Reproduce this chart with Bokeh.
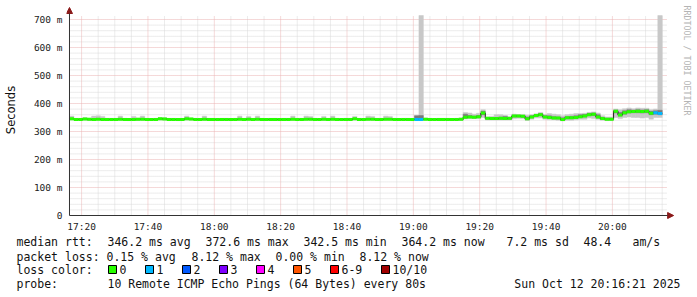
import re
import numpy as np
from bokeh.plotting import figure
from bokeh.models import Range1d, FixedTicker, Arrow, NormalHead, Label
from bokeh.layouts import column
from bokeh.embed import file_html
from bokeh.resources import INLINE
from bokeh.core.properties import value

# ---------------- data ----------------
START_MIN = 16 + 21 / 60      # 17:16:21, minutes after 17:00
STEP_MIN = 80 / 60            # one step = 80 s
SPAN_MIN = 180.0              # 3 hours shown
Y_MAX = 714.3                 # upper limit of the graph (ms)

x_ticks = [20, 40, 60, 80, 100, 120, 140, 160, 180]
x_tick_labels = ["17:20", "17:40", "18:00", "18:20", "18:40", "19:00", "19:20", "19:40", "20:00"]
x_minor = [25, 30, 35, 45, 50, 55, 65, 70, 75, 85, 90, 95, 105, 110, 115, 125, 130, 135,
           145, 150, 155, 165, 170, 175, 185, 190, 195]
y_ticks = [0, 100, 200, 300, 400, 500, 600, 700]
y_tick_labels = ["0", "100 m", "200 m", "300 m", "400 m", "500 m", "600 m", "700 m"]
y_minor = [20, 40, 60, 80, 120, 140, 160, 180, 220, 240, 260, 280, 320, 340, 360, 380,
           420, 440, 460, 480, 520, 540, 560, 580, 620, 640, 660, 680]

# median rtt per 80 s step (ms)
median = [
    345.1, 343.2, 342.9, 345.0, 343.4, 343.1, 344.0, 343.3, 342.8, 343.0,
    343.2, 344.1, 343.0, 342.7, 343.1, 343.4, 344.2, 343.0, 342.9, 343.1,
    345.2, 344.9, 343.3, 343.0, 342.8, 343.2, 345.1, 344.3, 343.1, 342.9,
    344.0, 343.2, 343.0, 342.8, 343.1, 343.3, 342.9, 343.0, 344.1, 343.2,
    344.0, 343.1, 344.2, 343.0, 342.9, 343.1, 343.2, 342.8, 343.0, 343.1,
    344.1, 343.2, 343.0, 344.0, 344.2, 343.1, 342.9, 344.0, 343.2, 344.1,
    343.0, 342.9, 343.1, 343.2, 345.2, 343.1, 342.9, 344.0, 344.2, 343.0,
    343.1, 344.1, 344.0, 343.2, 342.9, 343.0, 343.1, 342.8, 343.2, 343.0,
    344.0, 343.1, 342.9, 343.0, 343.2, 343.1, 342.9, 343.0,
    343.4, 351.2, 352.0, 351.1, 352.3, 366.0, 347.1, 346.2, 346.0, 347.2,
    346.1, 347.0, 355.1, 355.2, 354.3, 345.1, 352.2, 357.1, 360.2, 352.0,
    350.1, 348.2, 348.0, 342.5, 349.1, 349.2, 350.0, 353.1, 355.2, 360.1,
    361.2, 352.1, 346.0, 344.1, 344.2, 372.6, 359.1, 367.2, 370.1, 371.2,
    372.0, 371.1, 372.2, 365.1, 367.0, 364.2,
]

# lost pings (of 10) per step
loss = [
    0, 0, 0, 0, 0, 0, 0, 0, 0, 0, 0, 0, 0, 0, 0, 0, 0, 0, 0, 0,
    0, 0, 0, 0, 0, 0, 0, 0, 0, 0, 0, 0, 0, 0, 0, 0, 0, 0, 0, 0,
    0, 0, 0, 0, 0, 0, 0, 0, 0, 0, 0, 0, 0, 0, 0, 0, 0, 0, 0, 0,
    0, 0, 0, 0, 0, 0, 0, 0, 0, 0, 0, 0, 0, 0, 0, 0, 0, 0, 1, 1,
    0, 0, 0, 0, 0, 0, 0, 0, 0, 0, 0, 0, 0, 0, 0, 0, 0, 0, 0, 0,
    0, 0, 0, 0, 0, 0, 0, 0, 0, 0, 0, 0, 0, 0, 0, 0, 0, 0, 0, 0,
    0, 0, 0, 0, 0, 0, 0, 0, 0, 0, 0, 0, 1, 1,
]

# smoke: fastest / slowest ping and inner spread (ms)
ping_min = [
    341, 340, 340, 341, 340, 340, 341, 340, 340, 340,
    340, 341, 340, 339, 340, 340, 341, 340, 340, 340,
    341, 341, 340, 340, 339, 340, 341, 341, 340, 340,
    341, 340, 340, 339, 340, 340, 340, 340, 341, 340,
    341, 340, 341, 340, 340, 340, 340, 339, 340, 340,
    341, 340, 340, 341, 341, 340, 340, 341, 340, 341,
    340, 340, 340, 340, 341, 340, 340, 341, 341, 340,
    340, 341, 341, 340, 340, 340, 340, 339, 340, 340,
    341, 340, 340, 340, 340, 340, 340, 340,
    340, 345, 346, 346, 346, 350, 341, 341, 341, 341,
    341, 341, 346, 347, 346, 340, 344, 348, 348, 344,
    342, 342, 340, 338, 340, 340, 342, 344, 344, 348,
    346, 344, 340, 339, 339, 350, 346, 350, 352, 350,
    350, 348, 350, 344, 350, 350,
]
inner_lo = [
    343, 341, 341, 343, 341, 341, 342, 341, 341, 341,
    341, 342, 341, 341, 341, 341, 342, 341, 341, 341,
    343, 343, 341, 341, 341, 341, 343, 342, 341, 341,
    342, 341, 341, 341, 341, 341, 341, 341, 342, 341,
    342, 341, 342, 341, 341, 341, 341, 341, 341, 341,
    342, 341, 341, 342, 342, 341, 341, 342, 341, 342,
    341, 341, 341, 341, 343, 341, 341, 342, 342, 341,
    341, 342, 342, 341, 341, 341, 341, 341, 341, 341,
    342, 341, 341, 341, 341, 341, 341, 341,
    342, 348, 349, 348, 349, 360, 344, 343, 343, 344,
    343, 344, 352, 352, 351, 342, 349, 354, 357, 349,
    347, 345, 345, 340, 346, 346, 347, 350, 352, 357,
    357, 348, 343, 342, 342, 366, 355, 362, 366, 367,
    367, 366, 367, 360, 362, 360,
]
inner_hi = [
    347, 345, 345, 347, 345, 345, 346, 345, 345, 345,
    345, 346, 345, 345, 345, 345, 346, 345, 345, 345,
    347, 347, 345, 345, 345, 345, 347, 346, 345, 345,
    346, 345, 345, 345, 345, 345, 345, 345, 346, 345,
    346, 345, 346, 345, 345, 345, 345, 345, 345, 345,
    346, 345, 345, 346, 346, 345, 345, 346, 345, 346,
    345, 345, 345, 345, 347, 345, 345, 346, 346, 345,
    345, 346, 346, 345, 345, 345, 345, 345, 356, 357,
    346, 345, 345, 345, 345, 345, 345, 345,
    345, 362, 357, 355, 357, 372, 350, 349, 350, 351,
    354, 349, 358, 358, 357, 352, 356, 360, 364, 356,
    356, 353, 352, 349, 353, 354, 356, 360, 361, 365,
    366, 360, 350, 347, 347, 376, 368, 374, 378, 376,
    378, 377, 378, 372, 374, 376,
]
ping_max = [
    355, 347, 347, 349, 347, 355, 356, 354, 347, 347,
    347, 355, 347, 346, 354, 347, 355, 347, 346, 347,
    349, 349, 347, 347, 346, 347, 355, 348, 347, 346,
    355, 347, 347, 346, 347, 347, 346, 347, 355, 347,
    354, 347, 355, 347, 346, 347, 347, 346, 347, 347,
    355, 347, 347, 355, 354, 347, 346, 354, 347, 355,
    347, 346, 347, 347, 354, 347, 346, 355, 354, 347,
    347, 355, 354, 347, 346, 347, 347, 346, 358, 760,
    348, 347, 346, 347, 347, 347, 346, 347,
    348, 368, 366, 362, 365, 378, 352, 354, 360, 360,
    357, 352, 362, 360, 361, 358, 360, 363, 368, 361,
    364, 362, 360, 356, 360, 362, 364, 364, 365, 368,
    370, 366, 356, 352, 352, 380, 378, 381, 384, 381,
    384, 383, 383, 378, 380, 760,
]

loss_labels = ["0", "1", "2", "3", "4", "5", "6-9", "10/10"]
loss_colors = ["#26ff00", "#00b8ff", "#0059ff", "#7e00ff", "#ff00ff", "#ff5500", "#ff0000", "#a10000"]

stat_rtt = "median rtt:  346.2 ms avg  372.6 ms max  342.5 ms min  364.2 ms now   7.2 ms sd  48.4   am/s"
stat_loss = "packet loss: 0.15 % avg  8.12 % max  0.00 % min  8.12 % now"
loss_title = "loss color:"
probe_text = "probe:       10 Remote ICMP Echo Pings (64 Bytes) every 80s"
date_text = "Sun Oct 12 20:16:21 2025"
watermark = "RRDTOOL / TOBI OETIKER"

# ---------------- derived ----------------
n = len(median)
t0 = START_MIN + np.arange(n) * STEP_MIN
t1 = t0 + STEP_MIN
med = np.array(median, dtype=float)


def loss_class(k):
    if k <= 5:
        return k
    if k < 10:
        return 6
    return 7


band_colors = [loss_colors[loss_class(k)] for k in loss]

X_END = START_MIN + SPAN_MIN
PX_PER_MIN = 600 / SPAN_MIN
PX_PER_MS = 200 / Y_MAX

MONO = "DejaVu Sans Mono"
GRID_MINOR = "#d8d8d8"
GRID_MAJOR = "#ebb3b3"
AXIS_COL = "#333333"
ARROW_COL = "#8b1a1a"

# canvas layout of the graph part (pixels)
W, H_TOP = 697, 234
FRAME_L, FRAME_B = 63, 219          # frame covers x 63..697, y 0..219
AXIS_X_PX, AXIS_Y_PX = 66, 215      # where the value axis / time axis lines sit

x_lo = START_MIN - (AXIS_X_PX - FRAME_L) / PX_PER_MIN
x_hi = x_lo + (W - FRAME_L) / PX_PER_MIN
y_lo = -(FRAME_B - AXIS_Y_PX) / PX_PER_MS
y_hi = y_lo + FRAME_B / PX_PER_MS

# ---------------- main graph ----------------
p = figure(width=W, height=H_TOP,
           x_range=Range1d(x_lo, x_hi), y_range=Range1d(y_lo, y_hi),
           output_backend="svg", toolbar_location=None,
           min_border_left=FRAME_L, min_border_right=0, min_border_top=0,
           min_border_bottom=H_TOP - FRAME_B)
p.frame_align = False
p.outline_line_color = None
p.xgrid.visible = False
p.ygrid.visible = False
p.background_fill_color = "white"
p.border_fill_color = "white"

# grid
p.segment(x0=x_minor, y0=0, x1=x_minor, y1=Y_MAX, line_color=GRID_MINOR, line_width=1, line_dash="1 1")
p.segment(x0=START_MIN, y0=y_minor, x1=X_END, y1=y_minor, line_color=GRID_MINOR, line_width=1, line_dash="1 1")
p.segment(x0=x_ticks, y0=0, x1=x_ticks, y1=Y_MAX, line_color=GRID_MAJOR, line_width=1, line_dash="1 1")
p.segment(x0=START_MIN, y0=y_ticks[1:], x1=X_END, y1=y_ticks[1:], line_color=GRID_MAJOR, line_width=1, line_dash="1 1")

# smoke (anything above the graph's upper limit is cut at the limit)
p.quad(left=t0, right=t1, bottom=ping_min, top=np.minimum(ping_max, Y_MAX),
       fill_color="#c8c8c8", line_color="#c8c8c8", line_width=0.5)
p.quad(left=t0, right=t1, bottom=inner_lo, top=np.minimum(inner_hi, Y_MAX),
       fill_color="#7a7a7a", line_color="#7a7a7a", line_width=0.5)

# median step line (thin, dark) and loss coloured band
step_x = np.column_stack([t0, t1]).ravel()
step_y = np.repeat(med, 2)
p.line(step_x, step_y, line_color="#202020", line_width=1)
p.segment(x0=t0, y0=med, x1=t1, y1=med, line_color=band_colors, line_width=3, line_cap="butt")

# axes: Bokeh axes at the frame edges give the tick labels, lines drawn as arrows
p.xaxis.ticker = FixedTicker(ticks=x_ticks)
p.xaxis.major_label_overrides = dict(zip(x_ticks, x_tick_labels))
p.yaxis.ticker = FixedTicker(ticks=y_ticks)
p.yaxis.major_label_overrides = dict(zip(y_ticks, y_tick_labels))
for ax in (p.xaxis, p.yaxis):
    ax.axis_line_color = None
    ax.major_tick_in = 0
    ax.major_tick_out = 0
    ax.minor_tick_in = 0
    ax.minor_tick_out = 0
    ax.major_label_text_font = MONO
    ax.major_label_text_font_size = "9.5px"
    ax.major_label_text_color = "#222222"
p.xaxis.major_label_standoff = 1
p.yaxis.major_label_standoff = 4
p.yaxis.axis_label = "Seconds"
p.yaxis.axis_label_text_font = "DejaVu Sans"
p.yaxis.axis_label_text_font_size = "11.5px"
p.yaxis.axis_label_text_font_style = "normal"
p.yaxis.axis_label_text_color = "#111111"
p.yaxis.axis_label_standoff = 13

# axis lines with arrow heads
p.add_layout(Arrow(end=NormalHead(size=6, fill_color=ARROW_COL, line_color=ARROW_COL),
                   x_start=START_MIN, y_start=0, x_end=X_END + 7 / PX_PER_MIN, y_end=0,
                   line_color=AXIS_COL, line_width=1))
p.add_layout(Arrow(end=NormalHead(size=6, fill_color=ARROW_COL, line_color=ARROW_COL),
                   x_start=START_MIN, y_start=0, x_end=START_MIN, y_end=Y_MAX + 8 / PX_PER_MS,
                   line_color=AXIS_COL, line_width=1))

# watermark on the right, reading downwards
p.add_layout(Label(x=X_END + 20 / PX_PER_MIN, y=Y_MAX + 10 / PX_PER_MS, text=watermark,
                   angle=-np.pi / 2, text_align="left", text_baseline="middle",
                   text_font=MONO, text_font_size="8.3px", text_color="#b4b4b4"))

# ---------------- legend / stats ----------------
H_BOT = 297 - H_TOP
q = figure(width=W, height=H_BOT, x_range=Range1d(0, W), y_range=Range1d(H_BOT, 0),
           output_backend="svg", toolbar_location=None,
           x_axis_location=None, y_axis_location=None,
           min_border_left=0, min_border_right=0, min_border_top=0, min_border_bottom=0)
q.frame_align = False
q.xgrid.visible = False
q.ygrid.visible = False
q.outline_line_color = None
q.background_fill_color = "white"
q.border_fill_color = "white"

TXT = dict(text_font=value(MONO), text_font_size="11.5px", text_color="#111111",
           text_baseline="middle", text_align="left")
ROW_Y = [241 - H_TOP, 256 - H_TOP, 269 - H_TOP, 283.5 - H_TOP]
LEFT = 16
CHAR_W = 7.0


def tokens(line):
    """split a fixed-width line into (column, text) pieces"""
    return [(m.start(), m.group(0)) for m in re.finditer(r"\S+(?: \S+)*", line)]


tx, ty, tt = [], [], []
for row, line in zip([0, 1, 2, 3], [stat_rtt, stat_loss, loss_title, probe_text]):
    for col, piece in tokens(line):
        tx.append(LEFT + col * CHAR_W)
        ty.append(ROW_Y[row])
        tt.append(piece)
q.text(x=tx, y=ty, text=tt, **TXT)
q.text(x=[680], y=[ROW_Y[3]], text=[date_text], **{**TXT, "text_align": "right"})

sq_x = []
xpos = 112.0
for lab in loss_labels:
    sq_x.append(xpos)
    xpos += 16 + len(lab) * CHAR_W + 14
q.rect(x=sq_x, y=ROW_Y[2], width=8, height=8, fill_color=loss_colors, line_color="#000000", line_width=1)
q.text(x=[s + 7 for s in sq_x], y=ROW_Y[2], text=loss_labels, **TXT)

layout = column(p, q, spacing=0)
open("out.html", "w").write(file_html(layout, INLINE))
